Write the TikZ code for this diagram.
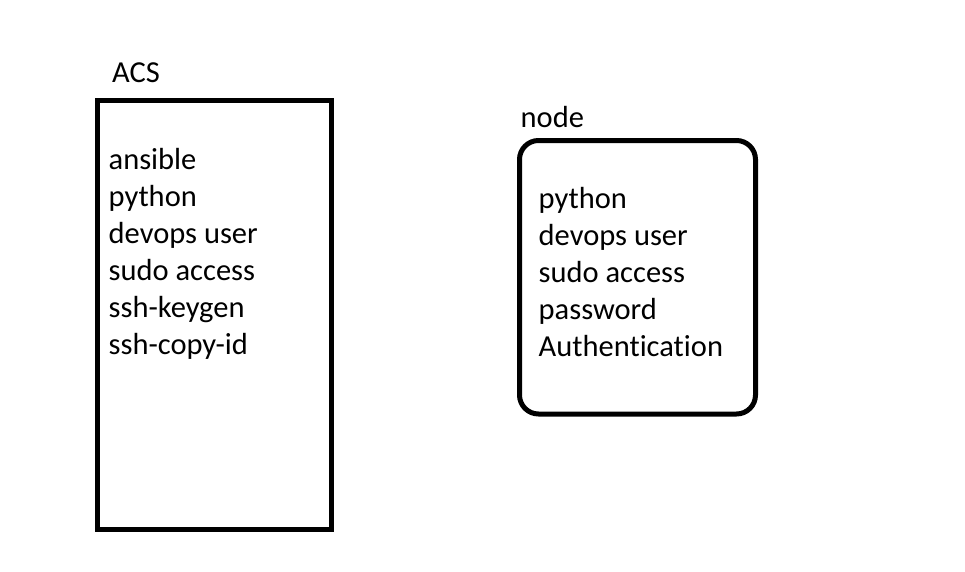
\documentclass[tikz,border=0pt]{standalone}
\usepackage{fontspec}
\setmainfont[Ligatures={NoCommon,TeX}]{Carlito}
\begin{document}
\begin{tikzpicture}[x=1pt,y=-1pt,
  lbl/.style={anchor=base west,inner sep=0pt,font=\fontsize{30.5}{37}\selectfont},
  boxline/.style={line width=5pt,draw=black}]
\useasboundingbox[fill=white] (0,0) rectangle (965,571);
% ACS box
\coordinate (acsTL) at (97.5,100);
\coordinate (acsBR) at (331.5,529.5);
\draw[boxline] (acsTL) rectangle (acsBR);
\node[lbl] (acs) at (112,82) {ACS};
\node[lbl] (a1) at (108.5,169) {ansible};
\node[lbl] (a2) at (108.5,206) {python};
\node[lbl] (a3) at (108.5,243) {devops user};
\node[lbl] (a4) at (108.5,280) {sudo access};
\node[lbl] (a5) at (108.5,317) {ssh-keygen};
\node[lbl] (a6) at (108.5,354) {ssh-copy-id};
% node box
\coordinate (nTL) at (519.5,140.5);
\coordinate (nBR) at (755.5,414);
\draw[boxline,rounded corners=19pt] (nTL) rectangle (nBR);
\node[lbl] (nd) at (520.5,127) {node};
\node[lbl] (n1) at (538.5,208) {python};
\node[lbl] (n2) at (538.5,245) {devops user};
\node[lbl] (n3) at (538.5,282) {sudo access};
\node[lbl] (n4) at (538.5,319) {password};
\node[lbl] (n5) at (538.5,356) {Authentication};
\end{tikzpicture}
\end{document}
